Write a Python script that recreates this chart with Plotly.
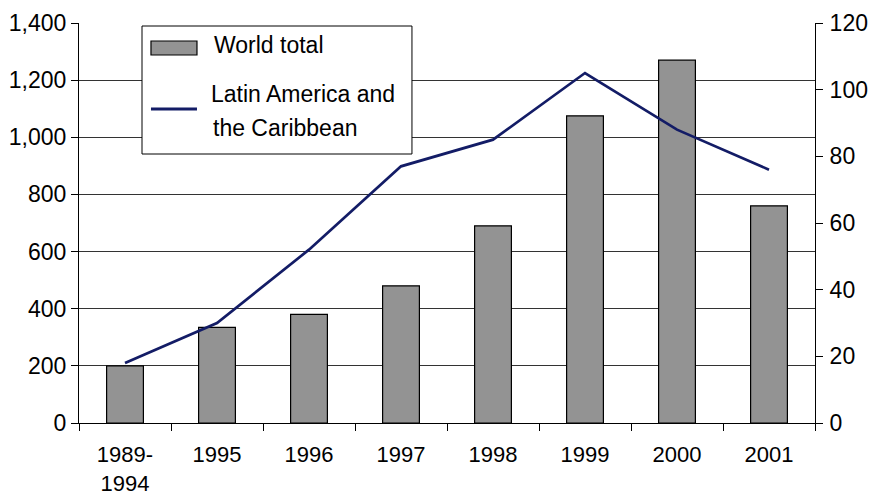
import plotly.graph_objects as go

categories = ["1989-<br>1994", "1995", "1996", "1997", "1998", "1999", "2000", "2001"]
world_total = [200, 335, 380, 480, 690, 1075, 1270, 760]
latin_america = [18, 30, 52, 77, 85, 105, 88, 76]
legend_labels = ["World total", "Latin America and", "the Caribbean"]

FONT = "Liberation Sans, Arial, sans-serif"
BAR_COLOR = "#939393"
LINE_COLOR = "#131c66"

fig = go.Figure()
fig.add_trace(go.Bar(
    x=categories, y=world_total, name="World total",
    marker=dict(color=BAR_COLOR, line=dict(color="#000000", width=1.2)),
    width=0.4, yaxis="y", showlegend=False,
))
fig.add_trace(go.Scatter(
    x=categories, y=latin_america, name="Latin America and the Caribbean",
    mode="lines", line=dict(color=LINE_COLOR, width=2.7), yaxis="y2",
    showlegend=False,
))

# manual legend box (paper coordinates)
shapes = [
    dict(type="rect", xref="paper", yref="paper", x0=0.0856, x1=0.4524, y0=0.6725, y1=0.9925,
         fillcolor="white", line=dict(color="#000000", width=1), layer="above"),
    dict(type="rect", xref="paper", yref="paper", x0=0.0978, x1=0.1603, y0=0.92, y1=0.955,
         fillcolor=BAR_COLOR, line=dict(color="#000000", width=1.2), layer="above"),
    dict(type="line", xref="paper", yref="paper", x0=0.0978, x1=0.1603, y0=0.785, y1=0.785,
         line=dict(color=LINE_COLOR, width=3), layer="above"),
]
legend_font = dict(size=23, family=FONT, color="black")
annotations = [
    dict(xref="paper", yref="paper", x=0.181, y=0.945, text=legend_labels[0], showarrow=False,
         xanchor="left", yanchor="middle", font=legend_font),
    dict(xref="paper", yref="paper", x=0.176, y=0.8225, text=legend_labels[1], showarrow=False,
         xanchor="left", yanchor="middle", font=legend_font),
    dict(xref="paper", yref="paper", x=0.180, y=0.7375, text=legend_labels[2], showarrow=False,
         xanchor="left", yanchor="middle", font=legend_font),
]

fig.update_layout(
    width=874, height=499,
    margin=dict(l=79, r=59, t=23, b=76, autoexpand=False),
    plot_bgcolor="white", paper_bgcolor="white",
    font=dict(family=FONT, size=23, color="black"),
    showlegend=False,
    shapes=shapes, annotations=annotations,
    xaxis=dict(
        showline=True, linecolor="#000000", linewidth=1,
        ticks="outside", tickson="boundaries", ticklen=7, tickcolor="#000000",
        showgrid=False, tickfont=dict(size=22), ticklabelstandoff=12,
        automargin=False,
    ),
    yaxis=dict(
        range=[0, 1400], dtick=200, tickformat=",",
        showline=True, linecolor="#000000", linewidth=1,
        ticks="outside", ticklen=7, tickcolor="#000000",
        showgrid=True, gridcolor="#333333", gridwidth=1,
        zeroline=False, tickfont=dict(size=23), automargin=False,
    ),
    yaxis2=dict(
        range=[0, 120], dtick=20, overlaying="y", side="right",
        showline=True, linecolor="#000000", linewidth=1,
        ticks="outside", ticklen=7, tickcolor="#000000",
        showgrid=False, zeroline=False, tickfont=dict(size=23),
        ticklabelstandoff=2, automargin=False,
    ),
    bargap=0.6,
)

fig.write_html("out.html")
